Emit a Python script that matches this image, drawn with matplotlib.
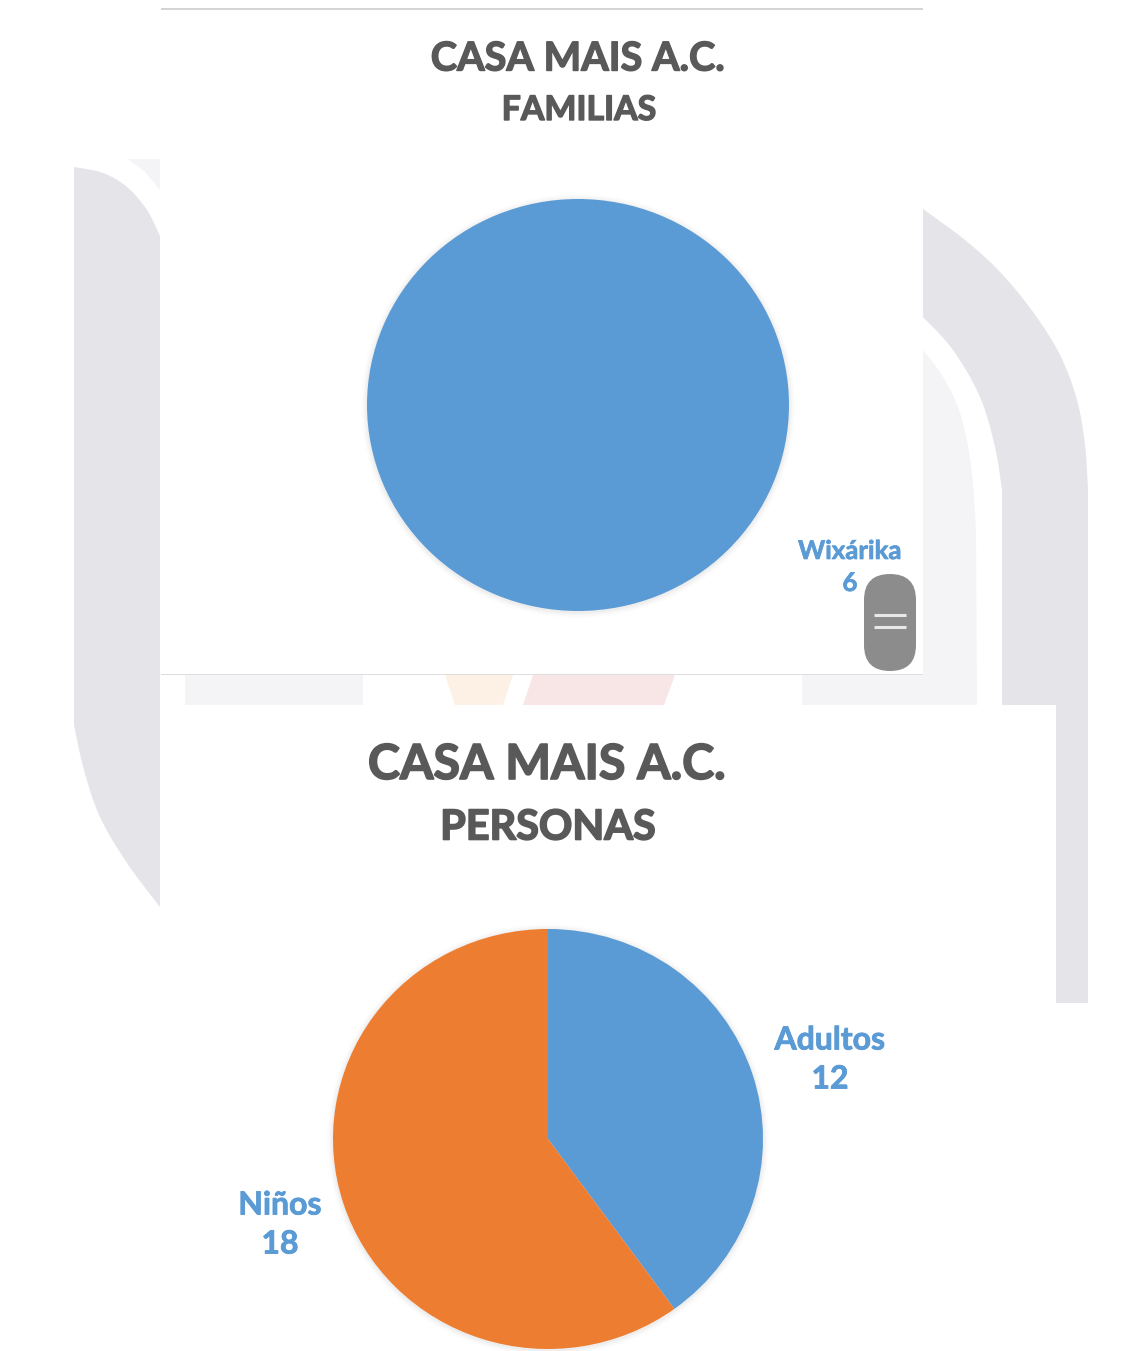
import matplotlib
matplotlib.use("Agg")
import matplotlib.pyplot as plt
import numpy as np
import matplotlib.patheffects as pe
from matplotlib.patches import Polygon, Rectangle, FancyBboxPatch, Ellipse

plt.rcParams['font.family'] = ['Lato', 'DejaVu Sans']

W, H = 1131, 1351
TITLE = "CASA MAIS A.C."
sub1 = "FAMILIAS"
labels1 = ["Wixárika"]
values1 = [6]
sub2 = "PERSONAS"
labels2 = ["Adultos", "Niños"]
values2 = [12, 18]
BLUE, ORANGE = "#5B9BD5", "#ED7D31"
TXT = "#595959"

fig = plt.figure(figsize=(W / 100, H / 100), dpi=100, facecolor="white")
bg = fig.add_axes([0, 0, 1, 1], zorder=0)
bg.set_xlim(0, W); bg.set_ylim(H, 0); bg.axis("off")

GRAY, LIGHT = "#E4E4E9", "#F4F4F7"

def smooth(pts, n=12):
    """Catmull-Rom curve through the outline points of a background shape."""
    p = np.array([pts[0]] + list(pts) + [pts[-1]], float)
    out = []
    for i in range(1, len(p) - 2):
        for s in np.linspace(0, 1, n, endpoint=False):
            out.append(0.5 * (2 * p[i] + (p[i + 1] - p[i - 1]) * s
                              + (2 * p[i - 1] - 5 * p[i] + 4 * p[i + 1] - p[i + 2]) * s ** 2
                              + (3 * p[i] - p[i - 1] - 3 * p[i + 1] + p[i + 2]) * s ** 3))
    out.append(p[-2])
    return out

left_top = [(74,167),(103,173),(127,187),(147,210),(160,236)]
left_low = [(160,907),(127,863),(100,817),(84,770),(74,725)]
left_band = smooth(left_top) + smooth(left_low)
top_wedge = [(128,159),(160,159),(160,190),(145,172)]
right_out = [(923,209),(965,240),(1000,272),(1033,312),(1060,355),(1077,400),(1085,445),(1088,490)]
right_in = [(1002,490),(995,447),(980,397),(953,350),(923,317)]
right_band = smooth(right_out) + [(1088,1003),(1056,1003),(1056,705),(1002,705)] + smooth(right_in)
light_in = [(923,350),(943,377),(960,413),(971,465),(976,530)]
right_light = smooth(light_in) + [(977,705),(923,705)]
for pts, c in [(left_band, GRAY), (top_wedge, LIGHT), (right_band, GRAY), (right_light, LIGHT)]:
    bg.add_patch(Polygon(pts, closed=True, fc=c, ec="none"))

bg.add_patch(Rectangle((185, 675), 178, 30, fc=LIGHT, ec="none"))
bg.add_patch(Rectangle((802, 675), 175, 30, fc=LIGHT, ec="none"))
bg.add_patch(Polygon([(445,675),(513,675),(503,705),(455,705)], closed=True, fc="#FDF1E6", ec="none"))
bg.add_patch(Polygon([(533,675),(675,675),(664,705),(523,705)], closed=True, fc="#F8E5E6", ec="none"))

# white panels
bg.add_patch(Rectangle((161, 10), 762, 664, fc="white", ec="none"))
bg.add_patch(Rectangle((161, 705), 895, H - 705, fc="white", ec="none"))
bg.add_patch(Rectangle((161, 8), 762, 1.6, fc="#D4D4D4", ec="none"))
bg.add_patch(Rectangle((161, 673.8), 762, 1.0, fc="#DEDEDE", ec="none"))

# soft pie shadows
for cx, cy, rx, ry in [(578, 406, 211, 206), (548, 1140, 215, 210)]:
    for grow, a in [(6, .012), (4.5, .018), (3, .025), (1.5, .04)]:
        bg.add_patch(Ellipse((cx, cy), 2 * (rx + grow), 2 * (ry + grow), fc="#555555", ec="none", alpha=a))

def pie_axes(cx, cy, rx, ry, values, colors):
    ax = fig.add_axes([(cx - rx) / W, 1 - (cy + ry) / H, 2 * rx / W, 2 * ry / H], zorder=1)
    ax.pie(values, colors=colors, startangle=90, counterclock=False, radius=1,
           wedgeprops=dict(linewidth=0))
    ax.set_aspect("auto"); ax.set_xlim(-1, 1); ax.set_ylim(-1, 1)
    return ax

pie_axes(578, 405, 211, 206, values1, [BLUE])
pie_axes(548, 1139, 215, 210, values2, [BLUE, ORANGE])

top = fig.add_axes([0, 0, 1, 1], zorder=2)
top.set_xlim(0, W); top.set_ylim(H, 0); top.axis("off"); top.patch.set_alpha(0)

def t(x, y, s, size, c=TXT, stroke=1.0):
    top.text(x, y, s, fontsize=size, color=c, fontweight="bold", ha="center", va="center",
             path_effects=[pe.withStroke(linewidth=stroke, foreground=c)])

t(578, 59, TITLE, 28.6)
t(579, 110, sub1, 24.4)
t(547, 765, TITLE, 34.8, stroke=1.2)
t(548, 828, sub2, 29.8, stroke=1.2)
t(850, 551, labels1[0], 18.6, BLUE, .5)
t(850, 583, str(values1[0]), 18.6, BLUE, .5)
t(830, 1040, labels2[0], 23, BLUE, .6)
t(830, 1079, str(values2[0]), 23, BLUE, .6)
t(280, 1205, labels2[1], 23, BLUE, .6)
t(280, 1244, str(values2[1]), 23, BLUE, .6)

top.add_patch(FancyBboxPatch((864 + 26, 574 + 26), 0, 97 - 52,
              boxstyle="round,pad=26,rounding_size=26", fc="#8C8C8C", ec="none"))
for y in (615, 627):
    top.plot([874, 906], [y, y], color="#E8E8E8", lw=2.2, solid_capstyle="butt")

fig.savefig("out.png", dpi=100, facecolor="white")
